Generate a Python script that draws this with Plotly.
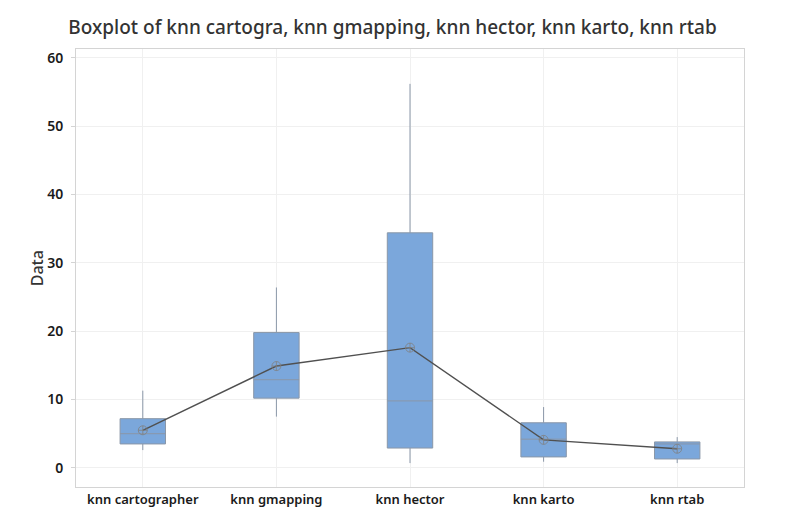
import plotly.graph_objects as go

# values
categories = ["knn cartographer", "knn gmapping", "knn hector", "knn karto", "knn rtab"]
lower = [2.6, 7.5, 0.7, 0.9, 0.7]
q1 = [3.5, 10.2, 2.9, 1.6, 1.3]
median = [5.0, 12.9, 9.8, 4.2, 3.5]
q3 = [7.2, 19.8, 34.4, 6.6, 3.8]
upper = [11.3, 26.4, 56.2, 8.9, 4.5]
means = [5.5, 14.9, 17.6, 4.1, 2.8]

font_family = "Noto Sans"

box = go.Box(
    x=categories,
    q1=q1,
    median=median,
    q3=q3,
    lowerfence=lower,
    upperfence=upper,
    width=0.34,
    whiskerwidth=0,
    fillcolor="#7BA7DB",
    line=dict(color="#8a97a8", width=1),
    boxpoints=False,
    hoverinfo="skip",
    showlegend=False,
)

mean_line = go.Scatter(
    x=categories,
    y=means,
    mode="lines+markers",
    line=dict(color="#505050", width=1.4),
    marker=dict(symbol="circle-cross-open", size=9, color="#808080",
                line=dict(width=0.8)),
    showlegend=False,
)

# the page body has an 8px margin, so the figure is a bit smaller than the window
layout = go.Layout(
    width=769,
    height=515,
    margin=dict(l=68, r=33, t=41, b=36),
    paper_bgcolor="white",
    plot_bgcolor="white",
    title=dict(
        text="Boxplot of knn cartogra, knn gmapping, knn hector, knn karto, knn rtab",
        x=0.5, xanchor="center", y=0.962, yanchor="middle",
        font=dict(family=font_family, size=19, color="#333333", weight=500),
    ),
    xaxis=dict(
        type="category",
        range=[-0.5, 4.5],
        showgrid=True, gridcolor="#f0f0f0", gridwidth=1,
        showline=True, linecolor="#d4d4d4", mirror=True,
        ticks="", tickfont=dict(family=font_family, size=13, color="#1a1a1a", weight=600),
        zeroline=False,
    ),
    yaxis=dict(
        range=[-2.8, 61.3],
        tickvals=[0, 10, 20, 30, 40, 50, 60],
        showgrid=True, gridcolor="#f0f0f0", gridwidth=1,
        showline=True, linecolor="#d4d4d4", mirror=True,
        ticks="outside", ticklen=4, tickcolor="#d4d4d4",
        ticklabelstandoff=5,
        tickfont=dict(family=font_family, size=14, color="#1a1a1a", weight=600),
        zeroline=False,
    ),
    annotations=[dict(
        text="Data", xref="paper", yref="paper", x=-0.058, y=0.5,
        xanchor="center", yanchor="middle", textangle=-90, showarrow=False,
        font=dict(family=font_family, size=16, color="#333333", weight=500),
    )],
)

fig = go.Figure(data=[box, mean_line], layout=layout)
fig.write_html("out.html")
